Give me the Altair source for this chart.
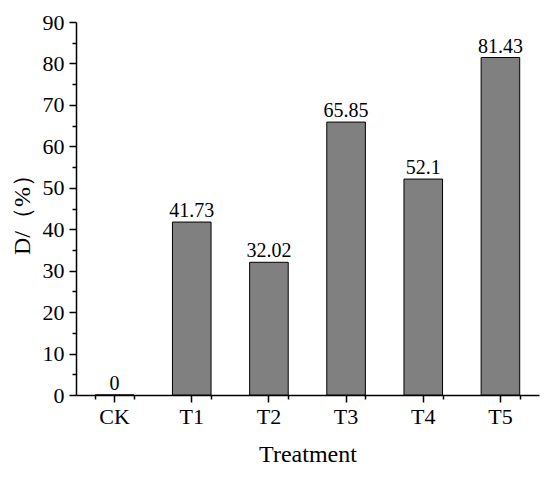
import altair as alt
import pandas as pd

treatments = ["CK", "T1", "T2", "T3", "T4", "T5"]
d_values = [0, 41.73, 32.02, 65.85, 52.1, 81.43]
d_labels = ["0", "41.73", "32.02", "65.85", "52.1", "81.43"]
major_ticks = [0, 10, 20, 30, 40, 50, 60, 70, 80, 90]
minor_ticks = [5, 15, 25, 35, 45, 55, 65, 75, 85]

df = pd.DataFrame({"treatment": treatments, "d": d_values, "label": d_labels})

FONT = "Liberation Serif"
x_scale = alt.Scale(domain=treatments, paddingInner=0.5, paddingOuter=0.25)
y_scale = alt.Scale(domain=[0, 90], nice=False)

bars = alt.Chart(df).mark_bar(color="#808080", stroke="black", strokeWidth=1).encode(
    x=alt.X(
        "treatment:N",
        scale=x_scale,
        sort=treatments,
        axis=alt.Axis(
            orient="bottom", title="Treatment", labelAngle=0, tickSize=7,
            labelPadding=4, titlePadding=15, titleFontWeight="normal",
        ),
    ),
    y=alt.Y(
        "d:Q",
        scale=y_scale,
        axis=alt.Axis(
            orient="left", title="D/（%）", values=major_ticks, tickSize=7,
            labelPadding=5, titlePadding=8, grid=False, titleFontWeight="normal",
        ),
    ),
)

text = alt.Chart(df).mark_text(baseline="bottom", dy=-1, fontSize=20, font=FONT).encode(
    x=alt.X("treatment:N", scale=x_scale, sort=treatments, axis=None),
    y=alt.Y("d:Q", scale=y_scale, axis=None),
    text="label:N",
)

minor = alt.Chart(df).mark_bar(opacity=0).encode(
    x=alt.X(
        "treatment:N",
        scale=x_scale,
        sort=treatments,
        axis=alt.Axis(
            orient="bottom", title=None, labels=False, domain=False,
            tickBand="extent", tickSize=4,
        ),
    ),
    y=alt.Y(
        "d:Q",
        scale=y_scale,
        axis=alt.Axis(
            orient="left", title=None, labels=False, domain=False,
            values=minor_ticks, tickSize=4, grid=False,
        ),
    ),
)

chart = (
    alt.layer(bars, text, minor)
    .resolve_axis(x="independent", y="independent")
    .properties(
        width=463,
        height=373,
        autosize=alt.AutoSizeParams(type="none"),
        padding={"left": 68, "top": 14, "right": 3, "bottom": 74},
    )
    .configure_view(stroke=None)
    .configure_axis(
        labelFont=FONT,
        titleFont=FONT,
        labelFontSize=22,
        titleFontSize=24,
        labelColor="black",
        titleColor="black",
        domainColor="black",
        tickColor="black",
        domainWidth=1.5,
        tickWidth=1.5,
        grid=False,
    )
)

chart.save("out.html", embed_options={"renderer": "svg", "actions": False})
